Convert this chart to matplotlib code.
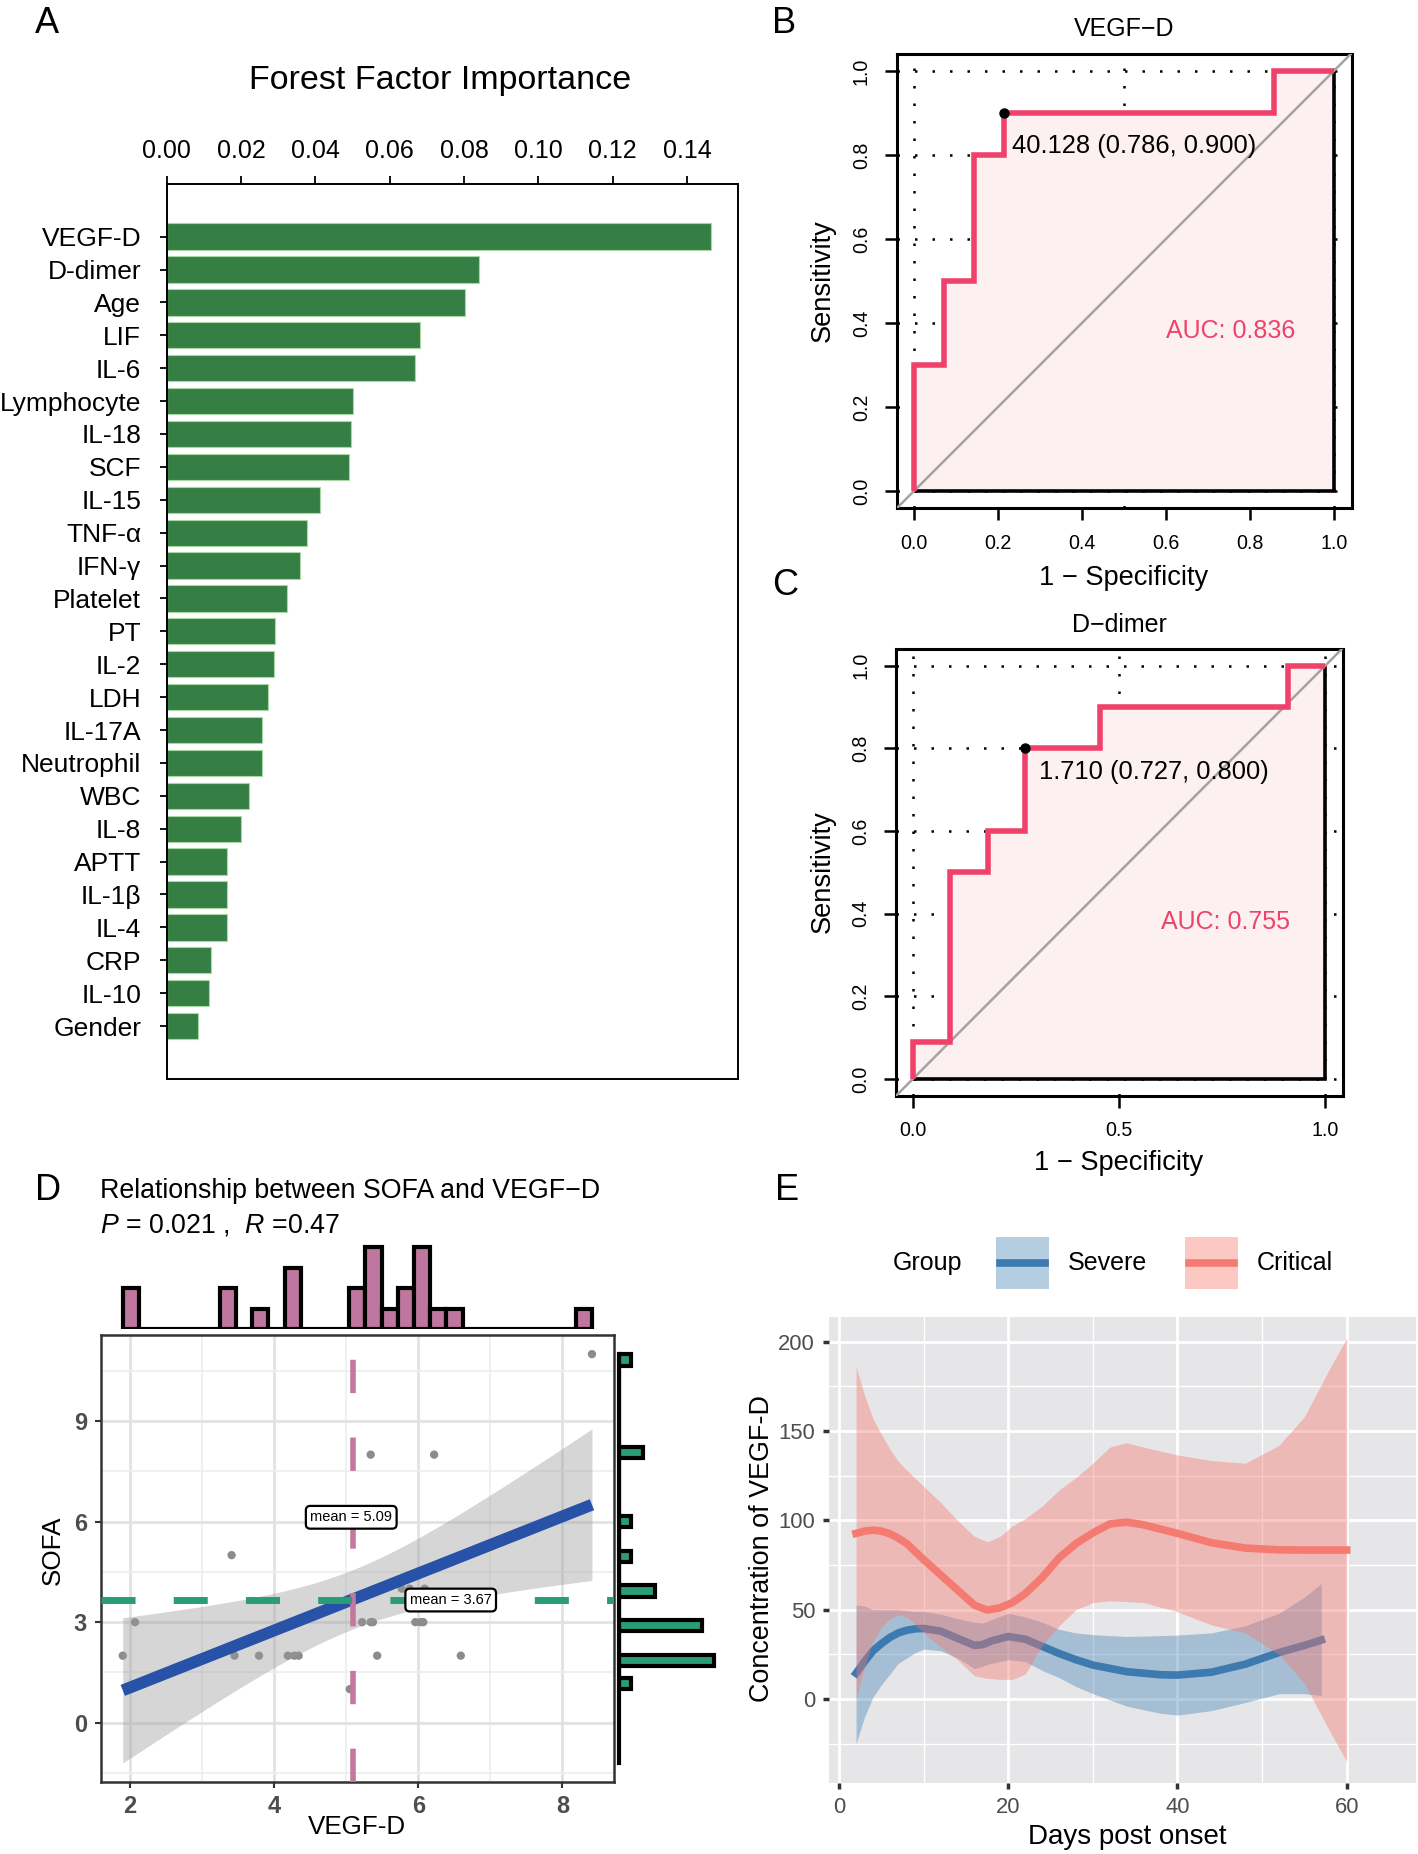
import numpy as np
import matplotlib
matplotlib.use('Agg')
import matplotlib.pyplot as plt
from matplotlib.patches import Rectangle
from matplotlib.lines import Line2D

plt.rcParams['font.family'] = ['Liberation Sans', 'DejaVu Sans']
plt.rcParams['mathtext.fontset'] = 'custom'
plt.rcParams['mathtext.rm'] = 'Liberation Sans'
plt.rcParams['mathtext.it'] = 'Liberation Sans:italic'

# ---- A: random forest importance
features = ['VEGF-D', 'D-dimer', 'Age', 'LIF', 'IL-6', 'Lymphocyte', 'IL-18', 'SCF',
            'IL-15', 'TNF-α', 'IFN-γ', 'Platelet', 'PT', 'IL-2', 'LDH', 'IL-17A',
            'Neutrophil', 'WBC', 'IL-8', 'APTT', 'IL-1β', 'IL-4', 'CRP', 'IL-10', 'Gender']
importance = [0.1464, 0.0839, 0.0802, 0.0681, 0.0669, 0.0502, 0.0496, 0.0490,
              0.0411, 0.0378, 0.0358, 0.0323, 0.0291, 0.0289, 0.0272, 0.0257,
              0.0255, 0.0222, 0.0200, 0.0163, 0.0163, 0.0161, 0.0119, 0.0113, 0.0084]

# ---- B / C: ROC curves (1 - specificity, sensitivity)
vegf_fpr = [0, 0, 0.071, 0.071, 0.143, 0.143, 0.214, 0.214, 0.857, 0.857, 1.0]
vegf_tpr = [0, 0.3, 0.3, 0.5, 0.5, 0.8, 0.8, 0.9, 0.9, 1.0, 1.0]
vegf_best = (0.214, 0.9)
ddim_fpr = [0, 0, 0.091, 0.091, 0.182, 0.182, 0.273, 0.273, 0.455, 0.455, 0.909, 0.909, 1.0]
ddim_tpr = [0, 0.09, 0.09, 0.5, 0.5, 0.6, 0.6, 0.8, 0.8, 0.9, 0.9, 1.0, 1.0]
ddim_best = (0.273, 0.8)

# ---- D: SOFA vs VEGF-D
vegf_d = [8.41, 5.34, 6.22, 3.41, 5.77, 5.88, 6.09, 2.07, 5.22, 5.34, 5.37, 5.96,
          6.03, 6.07, 1.90, 3.45, 3.79, 4.19, 4.28, 4.34, 5.43, 6.59, 5.05, 5.60]
sofa = [11, 8, 8, 5, 4, 4, 4, 3, 3, 3, 3, 3, 3, 3, 2, 2, 2, 2, 2, 2, 2, 2, 1, 6]
vegf_mean = 5.09
sofa_mean = 3.67

# ---- E: loess fits over days post onset
severe_day = [2, 3, 4, 5, 6, 7, 8, 9, 10, 12, 14, 16, 17, 18, 20, 22, 24, 26, 28, 30,
              34, 38, 40, 44, 48, 52, 55, 57]
severe_fit = [14.4, 21, 27, 31, 34.5, 37, 38.5, 39.3, 39.5, 38, 34, 30, 30.5, 32.5, 35, 33.5,
              29.5, 25.5, 22, 19, 15.3, 13.6, 13.4, 15, 19.5, 26, 30, 33]
severe_hi = [52.6, 52, 50, 50, 50, 50, 49.5, 49, 49, 47.5, 45, 43, 42.5, 44.5, 48, 46,
             43, 39, 37, 36, 35, 35.5, 35.8, 37, 41, 48, 57, 64.7]
severe_lo = [-25, -10, 1, 8, 14, 20, 23, 26, 28, 27, 23, 17, 18.5, 20, 22, 21,
             16, 12, 7, 3, -4, -8, -9, -6.5, -2, 3, 3, 2]
critical_day = [2, 3, 4, 5, 6, 7, 8, 10, 12, 14, 16, 17.5, 19, 20.5, 22, 24, 26, 28, 30,
                32, 34, 36, 40, 44, 48, 52, 55, 58, 60]
critical_fit = [92.7, 94, 94.5, 94, 92.5, 90, 87, 78, 69.5, 61, 52.5, 49.8, 51, 54, 59, 68,
                79, 87, 93, 98, 99, 97.5, 92.7, 87.5, 84.5, 83.5, 83.4, 83.4, 83.4]
critical_hi = [186, 170, 157, 148, 140, 133, 128, 119, 110, 100, 91, 88, 91, 97, 101, 108,
               117, 124, 132, 141, 143.5, 141, 136.6, 133.5, 132, 142, 158, 185, 202]
critical_lo = [0, 18, 32, 40, 45, 47, 46, 37, 29, 22, 13, 11.6, 11, 11, 14, 30,
               41, 50, 54, 55, 54.5, 54, 48.8, 41.5, 37, 25, 8.8, -18, -35]
groups = ['Severe', 'Critical']

W, H = 1418, 1854
fig = plt.figure(figsize=(W / 100, H / 100), dpi=100)


def box(l, t, r, b):
    return fig.add_axes([l / W, 1 - b / H, (r - l) / W, (b - t) / H])


def ftext(x, y, s, **kw):
    return fig.text(x / W, 1 - y / H, s, **kw)


# panel letters
for letter, (x, y) in zip('ABCDE', [(35, 33), (772, 33), (772, 595), (35, 1200), (775, 1200)]):
    ftext(x, y, letter, fontsize=26, va='baseline')

# ================= A
axA = box(166.8, 184, 738, 1079)
pos = np.arange(len(features))[::-1]
axA.barh(pos, importance, height=0.8, color='#357F45', edgecolor='#A8D8A3', linewidth=0.8)
axA.set_yticks(pos)
axA.set_yticklabels(features, fontsize=19)
axA.set_ylim(-1.61, 25.6)
axA.set_xlim(0, 0.1537)
axA.xaxis.tick_top()
xt = np.arange(0, 0.141, 0.02)
axA.set_xticks(xt)
axA.set_xticklabels([f'{v:.2f}' for v in xt], fontsize=18)
axA.tick_params(axis='x', length=6, width=1.3, pad=9)
axA.tick_params(axis='y', length=5.4, width=1.3, pad=13)
for s in axA.spines.values():
    s.set_linewidth(1.4)
ftext(440, 89, 'Forest Factor Importance', fontsize=24.5, ha='center', va='baseline')


# ================= B, C
def roc_panel(ax, fpr, tpr, best, best_label, best_xy, auc_label, title, xticks, title_pad):
    ax.set_xlim(-0.0405, 1.042)
    ax.set_ylim(-0.04, 1.041)
    dot = dict(color='black', lw=1.8, ls=(0, (1, 6)), zorder=1)
    for gy in np.arange(0, 1.01, 0.2):
        ax.axhline(gy, **dot)
    for gx in [0, 0.5, 1.0]:
        ax.axvline(gx, **dot)
    ax.fill(np.r_[fpr, 1.0], np.r_[tpr, 0.0], fc='#FCF0F0', ec='black', lw=2.6, zorder=2)
    ax.axline((0, 0), (1, 1), color='#A3A3A3', lw=1.8, zorder=3)
    ax.plot(fpr, tpr, color='#EF426B', lw=4, zorder=4, solid_joinstyle='miter', solid_capstyle='butt')
    ax.plot(*best, 'o', color='black', ms=6.5, zorder=5)
    ax.text(best_xy[0], best_xy[1], best_label, fontsize=18.4, va='center', zorder=6)
    ax.text(0.601, 0.38, auc_label, fontsize=18, color='#EF426B', va='center', zorder=6)
    ax.set_xticks(xticks)
    ax.set_xticklabels([f'{v:.1f}' for v in xticks], fontsize=14.1)
    yt = np.arange(0, 1.01, 0.2)
    ax.set_yticks(yt)
    ax.set_yticklabels([f'{v:.1f}' for v in yt], fontsize=14.1, rotation=90, va='center')
    ax.tick_params(length=8.6, width=1.8, pad=10)
    for s in ax.spines.values():
        s.set_linewidth(2.2)
    ax.set_title(title, fontsize=18, pad=title_pad)


axB = box(896.8, 53.6, 1351.6, 508)
roc_panel(axB, vegf_fpr, vegf_tpr, vegf_best, '40.128 (0.786, 0.900)', (0.233, 0.82),
          'AUC: 0.836', 'VEGF−D', np.arange(0, 1.01, 0.2), 12.7)
ftext(822.7, 281, 'Sensitivity', fontsize=19.6, rotation=90, ha='center', va='center')
ftext(1124, 578, '1 − Specificity', fontsize=19.6, ha='center', va='center')

axC = box(896, 648.6, 1342.7, 1095.6)
roc_panel(axC, ddim_fpr, ddim_tpr, ddim_best, '1.710 (0.727, 0.800)', (0.307, 0.742),
          'AUC: 0.755', 'D−dimer', [0.0, 0.5, 1.0], 11.6)
ftext(822.7, 872, 'Sensitivity', fontsize=19.6, rotation=90, ha='center', va='center')
ftext(1119, 1162.6, '1 − Specificity', fontsize=19.6, ha='center', va='center')

# ================= D
x = np.array(vegf_d)
y = np.array(sofa, dtype=float)
axD = box(101, 1334.7, 614.3, 1782.3)
axD.set_xlim(1.598, 8.72)
axD.set_ylim(-1.78, 11.58)
axD.set_xticks([2, 4, 6, 8])
axD.set_xticks([3, 5, 7], minor=True)
axD.set_yticks([0, 3, 6, 9])
axD.set_yticks([-1.5, 1.5, 4.5, 7.5, 10.5], minor=True)
axD.grid(which='major', color='#E2E2E2', lw=2.0, zorder=0)
axD.grid(which='minor', color='#EDEDED', lw=1.2, zorder=0)
axD.set_axisbelow(True)
axD.tick_params(which='major', length=4, width=1.5, color='#333333', labelsize=17,
                labelcolor='#4D4D4D')
axD.tick_params(axis='x', pad=5)
axD.tick_params(axis='y', pad=6)
axD.tick_params(which='minor', length=0)
for lab in axD.get_xticklabels() + axD.get_yticklabels():
    lab.set_fontweight('bold')
for s in axD.spines.values():
    s.set_linewidth(1.8)
    s.set_color('#333333')

axD.scatter(x, y, s=36, color='#8C8C8C', edgecolor='none', zorder=2)
# linear fit with 95% band
slope, icpt = np.polyfit(x, y, 1)
n = len(x)
resid = y - (slope * x + icpt)
s_err = np.sqrt(np.sum(resid ** 2) / (n - 2))
xg = np.linspace(x.min(), x.max(), 100)
yg = slope * xg + icpt
se = s_err * np.sqrt(1 / n + (xg - x.mean()) ** 2 / np.sum((x - x.mean()) ** 2))
t975 = 2.074
axD.fill_between(xg, yg - t975 * se, yg + t975 * se, color='#9A9A9A', alpha=0.4, lw=0, zorder=3)
axD.plot(xg, yg, color='#2752A8', lw=8.5, zorder=4, solid_capstyle='butt')
axD.axvline(vegf_mean, color='#C5789F', lw=4, dashes=(6, 8), zorder=5)
axD.axhline(sofa_mean, color='#2A9D75', lw=5, dashes=(4.9, 5.5), zorder=5)
lbl = dict(fontsize=10.5, ha='center', va='center', zorder=6,
           bbox=dict(boxstyle='round,pad=0.3', fc='white', ec='black', lw=1.6))
axD.text(5.07, 6.13, f'mean = {vegf_mean:.2f}', **lbl)
axD.text(6.45, 3.66, f'mean = {sofa_mean:.2f}', **lbl)
ftext(357, 1827, 'VEGF-D', fontsize=18.7, ha='center', va='center')
ftext(53, 1550, 'SOFA', fontsize=18.7, rotation=90, ha='center', va='center')
ftext(100, 1198, 'Relationship between SOFA and VEGF−D', fontsize=19.3, va='baseline')
ftext(100, 1232, r'$\it{P}$ = 0.021 ,  $\it{R}$ =0.47', fontsize=19.3, va='baseline')

# marginal histograms
axT = box(101, 1238, 614.3, 1329)
axT.hist(x, bins=29, color='#C0779F', edgecolor='black', lw=3)
axT.set_xlim(axD.get_xlim())
axT.set_ylim(0, 4.44)
axT.axis('off')

axR = box(619, 1334.7, 722, 1782.3)
axR.hist(y, bins=29, orientation='horizontal', color='#2A9D75', edgecolor='black', lw=3)
axR.set_ylim(axD.get_ylim())
axR.set_xlim(0, 8.66)
for k in ['top', 'right', 'bottom']:
    axR.spines[k].set_visible(False)
axR.spines['left'].set_linewidth(3)
axR.spines['left'].set_bounds(-1.2, 11)
axR.set_xticks([])
axR.set_yticks([])
axR.patch.set_alpha(0)

# ================= E
line_cols = ['#3C7AB0', '#F47B72']
band_cols = ['#4682B4', '#F8766D']
axE = box(829, 1316.7, 1416, 1783)
axE.set_facecolor('#E6E6E8')
axE.set_xlim(-1.2, 68.2)
axE.set_ylim(-47, 214)
axE.set_xticks([0, 20, 40, 60])
axE.set_xticks([10, 30, 50], minor=True)
axE.set_yticks([0, 50, 100, 150, 200])
axE.set_yticks([-25, 25, 75, 125, 175], minor=True)
axE.grid(which='major', color='white', lw=2.0)
axE.grid(which='minor', color='white', lw=1.0)
axE.set_axisbelow(True)
for s in axE.spines.values():
    s.set_visible(False)
axE.tick_params(which='major', length=4, width=2.5, color='#333333', labelsize=15.8,
                labelcolor='#4D4D4D', pad=6)
axE.tick_params(which='minor', length=0)

series = [(severe_day, severe_fit, severe_lo, severe_hi),
          (critical_day, critical_fit, critical_lo, critical_hi)]
for i, (d, f, lo, hi) in enumerate(series):
    axE.fill_between(d, lo, hi, color=band_cols[i], alpha=0.4, lw=0, zorder=2 + 2 * i)
    axE.plot(d, f, color=line_cols[i], lw=5.5, zorder=3 + 2 * i, solid_joinstyle='round')

ftext(1127, 1837, 'Days post onset', fontsize=20, ha='center', va='center')
ftext(762, 1549, 'Concentration of VEGF-D', fontsize=19.4, rotation=90, ha='center', va='center')

# legend drawn by hand: key box with line, like ggplot's smooth key
ftext(893, 1263, 'Group', fontsize=18, va='center')
for i, (name, kx) in enumerate(zip(groups, [996, 1185])):
    fig.patches.append(Rectangle((kx / W, 1 - 1289 / H), 53 / W, 52 / H, transform=fig.transFigure,
                                 fc=band_cols[i], alpha=0.4, ec='none'))
    fig.lines.append(Line2D([(kx + 4) / W, (kx + 49) / W], [1 - 1263 / H] * 2,
                            transform=fig.transFigure, color=line_cols[i], lw=5.5))
    ftext(kx + 72, 1263, name, fontsize=18, va='center')

fig.savefig('out.png', dpi=100)
